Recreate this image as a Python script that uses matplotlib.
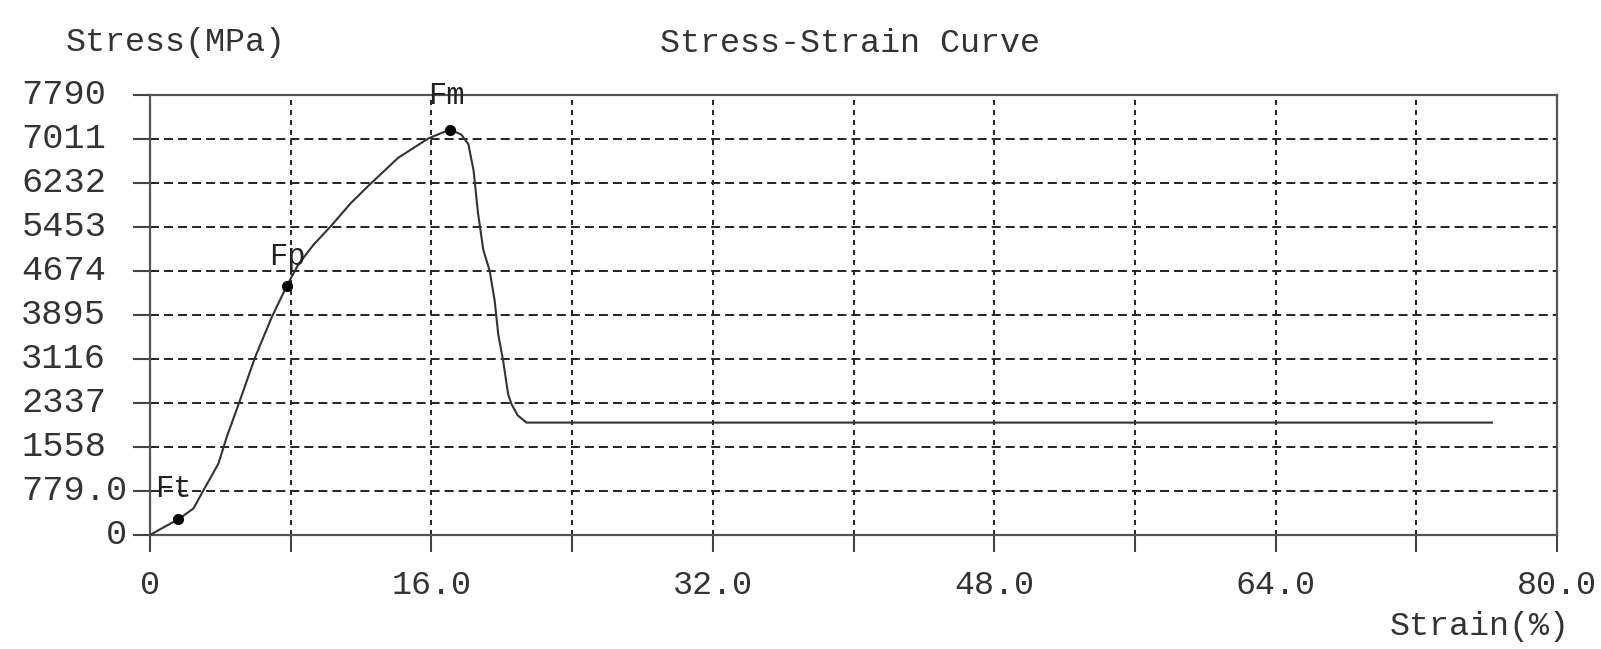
import matplotlib
matplotlib.use('Agg')
import matplotlib.pyplot as plt

# strain (%) / stress (MPa)
strain = [0.0, 0.8, 1.61, 2.47, 2.94, 3.89, 4.36, 5.11, 5.97, 6.91, 7.77, 8.43, 9.3,
          10.32, 11.4, 12.41, 14.11, 15.82, 17.05, 17.7, 18.1, 18.4, 18.65, 18.95, 19.32,
          19.6, 19.8, 20.08, 20.36, 20.55, 20.9, 21.4, 76.3]
stress = [0, 140, 277, 470, 735, 1264, 1733, 2379, 3142, 3848, 4406, 4789, 5140,
          5480, 5870, 6180, 6678, 7020, 7178, 7090, 6920, 6450, 5700, 5050, 4670,
          4142, 3554, 3084, 2497, 2321, 2120, 1990, 1990]

# marked points
point_names = ['Ft', 'Fp', 'Fm']
point_x = [1.61, 7.77, 17.05]
point_y = [277, 4406, 7178]

x_ticks = [0, 8, 16, 24, 32, 40, 48, 56, 64, 72, 80]
x_labels = ['0', '', '16.0', '', '32.0', '', '48.0', '', '64.0', '', '80.0']
y_ticks = [0, 779, 1558, 2337, 3116, 3895, 4674, 5453, 6232, 7011, 7790]
y_labels = ['    0', '779.0', '1558', '2337', '3116', '3895', '4674', '5453',
            '6232', '7011', '7790']

plt.rcParams['font.family'] = ['Liberation Mono', 'DejaVu Sans Mono']
plt.rcParams['lines.scale_dashes'] = False

fig = plt.figure(figsize=(16.01, 6.49), dpi=100)
ax = fig.add_axes([150 / 1601, 114 / 649, 1407 / 1601, 440 / 649])

ax.plot(strain, stress, color='#333333', lw=1.5, zorder=3)
ax.plot(point_x, point_y, 'o', color='black', ms=7, zorder=4)

offsets = [(-3.5, 21.5), (0.7, 21), (-2.3, 24)]
for name, px, py, off in zip(point_names, point_x, point_y, offsets):
    ax.annotate(name, (px, py), xytext=off, textcoords='offset points',
                ha='center', va='center', fontsize=22, color='#222222',
                zorder=5, annotation_clip=False)

ax.set_xlim(0, 80)
ax.set_ylim(0, 7790)
ax.set_xticks(x_ticks)
ax.set_xticklabels(x_labels)
ax.set_yticks(y_ticks)
ax.tick_params(axis='x', length=12, width=1.5, color='#444444', pad=13,
               labelsize=24, labelcolor='#333333')
ax.tick_params(axis='y', length=12, width=1.5, color='#444444', labelleft=False)

# y labels drawn as fixed-width text, as in the original software
for v, lab in zip(y_ticks, y_labels):
    ax.text(-0.0915, v, lab, transform=ax.get_yaxis_transform(), ha='left',
            va='center', fontsize=25.5, color='#333333')

ax.grid(axis='y', color='#222222', lw=1.4, linestyle=(0, (6.5, 3.6)))
ax.grid(axis='x', color='#222222', lw=1.4, linestyle=(0, (3.6, 3.6)))
for s in ax.spines.values():
    s.set_color('#555555')
    s.set_linewidth(1.6)

fig.text(66 / 1601, 1 - 43 / 649, 'Stress(MPa)', ha='left', va='center',
         fontsize=24, color='#333333')
fig.text(850 / 1601, 1 - 43 / 649, 'Stress-Strain Curve', ha='center', va='center',
         fontsize=24, color='#333333')
fig.text(1570 / 1601, 1 - 626 / 649, 'Strain(%)', ha='right', va='center',
         fontsize=24, color='#333333')

fig.savefig('out.png', dpi=100, facecolor='white')
